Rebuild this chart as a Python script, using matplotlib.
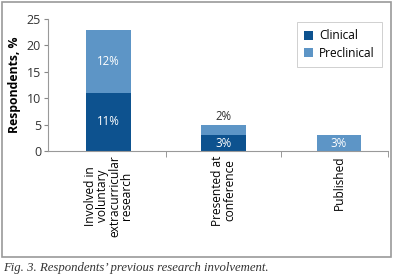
import matplotlib
matplotlib.use("Agg")
import matplotlib.pyplot as plt
from matplotlib.patches import Rectangle

categories = ["Involved in\nvoluntary\nextracurricular\nresearch", "Presented at\nconference", "Published"]
clinical = [11, 3, 0]
preclinical = [12, 2, 3]
clinical_labels = ["11%", "3%", ""]
preclinical_labels = ["12%", "2%", "3%"]
yticks = [0, 5, 10, 15, 20, 25]

c_dark = "#0d528f"
c_light = "#5d95c6"

plt.rcParams['font.family'] = ['Open Sans', 'DejaVu Sans']

fig = plt.figure(figsize=(3.93, 2.79), dpi=100)
fig.patches.append(Rectangle((2/393, 1 - 257/279), 389/393, 255/279, transform=fig.transFigure,
                             fill=False, edgecolor="#9a9a9a", linewidth=1.2))

ax = fig.add_axes([48/393, 1 - 151/279, 340/393, 132/279])
x = list(range(len(categories)))
w = 0.39
ax.bar(x, clinical, width=w, color=c_dark, label="Clinical")
ax.bar(x, preclinical, width=w, bottom=clinical, color=c_light, label="Preclinical")

fs = 8.3
for i in x:
    if clinical_labels[i]:
        ax.text(i, clinical[i] / 2, clinical_labels[i], ha="center", va="center", color="white", fontsize=fs)
    if preclinical[i] >= 3:
        ax.text(i, clinical[i] + preclinical[i] / 2, preclinical_labels[i], ha="center", va="center",
                color="white", fontsize=fs)
    else:
        ax.text(i, clinical[i] + preclinical[i] + 0.3, preclinical_labels[i], ha="center", va="bottom",
                color="#333333", fontsize=fs)

ax.set_xlim(-0.525, 2.425)
ax.set_ylim(0, 25)
ax.set_yticks(yticks)
ax.set_xticks(x)
ax.set_xticklabels(categories, rotation=90, fontsize=8.6, linespacing=0.92)
ax.set_xticks([0.5, 1.5, 2.425], minor=True)
ax.tick_params(axis="x", which="major", length=0, pad=3)
ax.tick_params(axis="x", which="minor", length=4, color="#888888")
ax.tick_params(axis="y", length=3, color="#888888", labelsize=9, pad=2, labelcolor="#333333")
for s in ["top", "right"]:
    ax.spines[s].set_visible(False)
for s in ["left", "bottom"]:
    ax.spines[s].set_color("#999999")
    ax.spines[s].set_linewidth(0.8)
ax.set_ylabel("Respondents, %", fontsize=8.8, fontweight="bold", labelpad=4)

leg = ax.legend(loc="upper right", bbox_to_anchor=(1.0, 1.02), fontsize=8.6, frameon=True, fancybox=False,
                edgecolor="#bbbbbb", handlelength=0.75, handleheight=0.75, handletextpad=0.5,
                borderpad=0.6, labelspacing=0.35)
leg.get_frame().set_linewidth(0.6)

fig.text(3/393, 1 - 268/279, "Fig. 3. Respondents\u2019 previous research involvement.",
         family="Liberation Serif", style="italic", fontsize=9.2, va="center", ha="left", color="#333333")

fig.savefig("out.png", dpi=100)
